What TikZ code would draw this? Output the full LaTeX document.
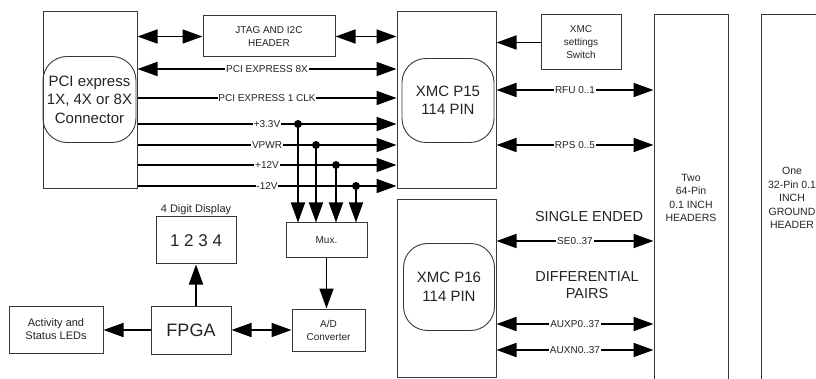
\documentclass[tikz,border=0pt]{standalone}
\usepackage{fontspec}
\setmainfont{Liberation Sans}
\usetikzlibrary{positioning, arrows.meta}
\definecolor{boxgrey}{RGB}{55,55,55}
\definecolor{txtgrey}{RGB}{35,35,35}
\newcommand{\fsz}[2]{\fontsize{#1}{#2}\selectfont}

\begin{document}
\begin{tikzpicture}[x=1pt, y=-1pt,
    box/.style={draw=boxgrey, line width=1pt, inner sep=1pt, align=center,
                text=txtgrey, font=\fsz{10}{13}},
    pin/.style={draw=boxgrey, line width=0.9pt, rounded corners=24pt, inner sep=1pt,
                align=center, text=txtgrey, font=\fsz{15}{18.5}},
    lbl/.style={fill=white, inner sep=0.8pt, text=txtgrey, font=\fsz{10}{12}},
    big/.style={align=center, text=txtgrey, font=\fsz{14.5}{17}},
    arr/.style={-{Triangle[length=20pt,width=14pt]}, line width=1.7pt},
    biarr/.style={{Triangle[length=20pt,width=14pt]}-{Triangle[length=20pt,width=14pt]},
                line width=1.7pt},
    dot/.style={circle, fill, inner sep=0pt, minimum size=8pt}]

  \useasboundingbox (0,0) rectangle (816,379);
  \clip (0,0) rectangle (816,379);

  \node[box, minimum width=94pt, minimum height=177pt] (pci) at (90,100.5) {};
  \node[pin, minimum width=93pt, minimum height=86pt] (pciin) at (89.5,99.5)
        {PCI express\\1X, 4X or 8X\\Connector};
  \node[box, minimum width=132pt, minimum height=41pt] (jtag) at (269,36.5)
        {JTAG AND I2C\\HEADER};
  \node[box, minimum width=99pt, minimum height=177pt] (p15) at (446.5,100.5) {};
  \node[pin, minimum width=92pt, minimum height=84pt] (p15in) at (448,100.5)
        {XMC P15\\114 PIN};
  \node[box, minimum width=80pt, minimum height=55pt] (switch) at (581,42.5)
        {XMC\\settings\\Switch};
  \node[box, minimum width=74pt, minimum height=366pt, font=\fsz{10.5}{13.5}] (hdr64) at (691,198)
        {Two\\64-Pin\\0.1 INCH\\HEADERS};
  \node[box, minimum width=62pt, minimum height=366pt, font=\fsz{10.5}{13.5}] (hdr32) at (792,198)
        {One\\32-Pin 0.1\\INCH\\GROUND\\HEADER};
  \node[box, minimum width=99pt, minimum height=177pt] (p16) at (446.5,288.5) {};
  \node[pin, minimum width=91pt, minimum height=87pt] (p16in) at (449,287)
        {XMC P16\\114 PIN};

  \node[box, minimum width=81pt, minimum height=35pt] (mux) at (326.5,240.5) {Mux.};
  \node[box, minimum width=73pt, minimum height=42pt] (adc) at (328.5,330)
        {A/D\\Converter};
  \node[box, minimum width=80pt, minimum height=48pt, font=\fsz{18}{20}] (fpga) at (191,330) {FPGA};
  \node[box, minimum width=80pt, minimum height=47pt, font=\fsz{17}{20}] (disp) at (196,240.5) {1 2 3 4};
  \node[above=0.5pt of disp, inner sep=1pt, text=txtgrey, font=\fsz{11}{13}] (displbl) {4 Digit Display};
  \node[box, minimum width=94pt, minimum height=47pt, font=\fsz{11}{13}] (leds) at (56,329.5)
        {Activity and\\Status LEDs};

  \node[big] (single) at (589,217) {SINGLE ENDED};
  \node[big] (diff) at (587,285.5) {DIFFERENTIAL\\PAIRS};

  \coordinate (r8x) at (0,69);
  \coordinate (rclk) at (0,98);
  \coordinate (r33) at (0,124);
  \coordinate (rvp) at (0,145);
  \coordinate (rp12) at (0,165);
  \coordinate (rm12) at (0,186);
  \coordinate (d33) at (298,124);
  \coordinate (dvp) at (316,145);
  \coordinate (dp12) at (336,165);
  \coordinate (dm12) at (356,186);

  \draw[biarr] (pci.east |- jtag.west) -- (jtag.west);
  \draw[biarr] (jtag.east) -- (p15.west |- jtag.east);
  \draw[biarr] (pci.east |- r8x) -- node[lbl]{PCI EXPRESS 8X} (p15.west |- r8x);
  \draw[arr] (pci.east |- rclk) -- node[lbl]{PCI EXPRESS 1 CLK} (p15.west |- rclk);
  \draw[arr] (pci.east |- r33) -- node[lbl]{+3.3V} (p15.west |- r33);
  \draw[arr] (pci.east |- rvp) -- node[lbl]{VPWR} (p15.west |- rvp);
  \draw[arr] (pci.east |- rp12) -- node[lbl]{+12V} (p15.west |- rp12);
  \draw[arr] (pci.east |- rm12) -- node[lbl]{-12V} (p15.west |- rm12);

  \node[dot] at (d33) {};
  \node[dot] at (dvp) {};
  \node[dot] at (dp12) {};
  \node[dot] at (dm12) {};
  \draw[arr] (d33) -- (d33 |- mux.north);
  \draw[arr] (dvp) -- (dvp |- mux.north);
  \draw[arr] (dp12) -- (dp12 |- mux.north);
  \draw[arr] (dm12) -- (dm12 |- mux.north);

  \draw[arr] (mux.south) -- (mux.south |- adc.north);
  \draw[biarr] (fpga.east) -- (adc.west |- fpga.east);
  \draw[arr] (fpga.west) -- (leds.east |- fpga.west);
  \draw[arr] (fpga.north -| disp.south) -- (disp.south);

  \draw[arr] (switch.west) -- (p15.east |- switch.west);
  \draw[biarr] (p15.east |- 0,90) -- node[lbl]{RFU 0..1} (hdr64.west |- 0,90);
  \draw[biarr] (p15.east |- 0,145) -- node[lbl]{RPS 0..5} (hdr64.west |- 0,145);
  \draw[biarr] (p16.east |- 0,241) -- node[lbl]{SE0..37} (hdr64.west |- 0,241);
  \draw[biarr] (p16.east |- 0,324) -- node[lbl]{AUXP0..37} (hdr64.west |- 0,324);
  \draw[biarr] (p16.east |- 0,350) -- node[lbl]{AUXN0..37} (hdr64.west |- 0,350);
\end{tikzpicture}
\end{document}
